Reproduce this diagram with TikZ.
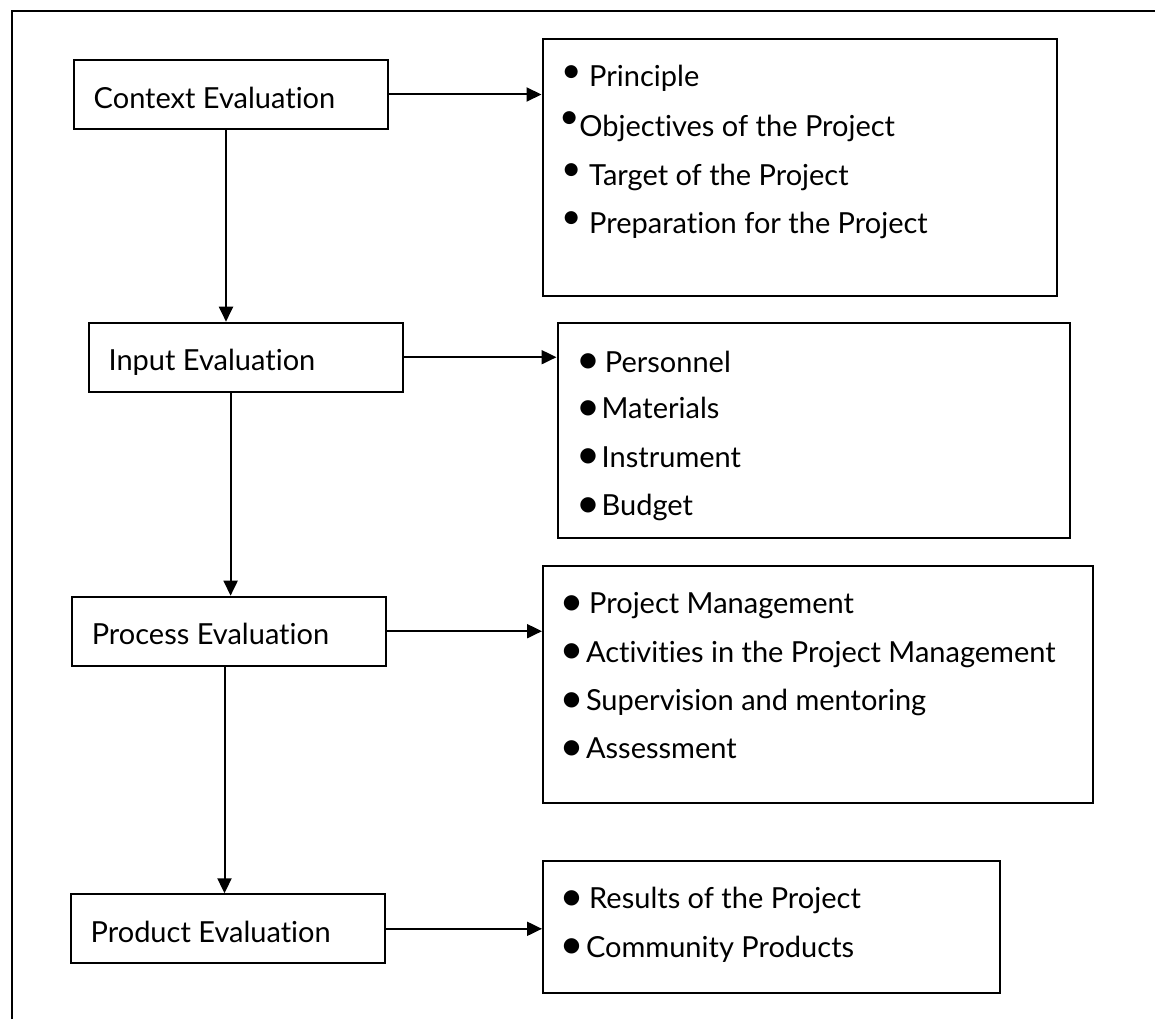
\documentclass[tikz,border=0pt]{standalone}
\usepackage{fontspec}
\setmainfont{Lato}[Ligatures=NoCommon]
\newfontfamily\dotfont{DejaVu Sans}
\usetikzlibrary{arrows.meta}

\newcommand{\bigdot}{{\fontsize{20}{20}\dotfont ●}}
\newcommand{\smalldot}{{\fontsize{17}{17}\dotfont ●}}
\newcommand{\stagetext}[1]{\makebox[274.6pt][l]{#1}}

\tikzset{
    stage/.style={draw, line width=2pt, anchor=north west, minimum height=69pt,
        inner xsep=20pt, text height=27.5pt, text depth=0pt},
    listbox/.style={draw, line width=2pt, anchor=north west, inner sep=0pt},
    item/.style={anchor=base west, inner sep=0pt},
    arr/.style={line width=2pt, -{Triangle[length=15pt,width=14pt]}},
}

\begin{document}
\begin{tikzpicture}[x=1pt, y=-1pt, font=\fontsize{29}{35}\selectfont]
    \useasboundingbox (0, 0) rectangle (1155, 1019);
    \draw[line width=2.6pt] (11.9, 1019) |- (1155, 11);

    % evaluation stages
    \node[stage] (ctx) at (72.7, 59) {\stagetext{Context Evaluation}};
    \node[stage] (inp) at (87.6, 321.7) {\stagetext{Input Evaluation}};
    \node[stage] (prc) at (70.8, 595.7) {\stagetext{Process Evaluation}};
    \node[stage] (prd) at (69.7, 893.3) {\stagetext{Product Evaluation}};

    % lists
    \node[listbox, minimum width=514.2pt, minimum height=257.3pt] (ctxl) at (541.5, 37.7) {};
    \node[listbox, minimum width=512.1pt, minimum height=214.4pt] (inpl) at (556.5, 322.3) {};
    \node[listbox, minimum width=550pt, minimum height=236.7pt] (prcl) at (542, 565) {};
    \node[listbox, minimum width=456.8pt, minimum height=131.7pt] (prdl) at (542, 860) {};

    \foreach \bx/\by/\tx/\ty/\t in {571.4/71.7/589/87/Principle,
            569.4/118.3/579.2/137/Objectives of the Project,
            571.4/170/589/185.3/Target of the Project,
            571.4/218.3/589/233.6/Preparation for the Project}{
        \node[inner sep=0pt] at (\bx, \by) {\smalldot};
        \node[item] at (\tx, \ty) {\t};
    }
    \foreach \by/\tx/\t in {361.7/604.7/Personnel, 408.3/601.5/Materials,
            456.7/601.5/Instrument, 505/601.5/Budget}{
        \node[inner sep=0pt] at (588, \by) {\bigdot};
        \node[item] at (\tx, \by+10.3) {\t};
    }
    \foreach \by/\tx/\t in {603.3/589/Project Management,
            651.7/585.8/Activities in the Project Management,
            700/585.8/Supervision and mentoring, 748.3/585.8/Assessment,
            898.3/589/Results of the Project, 946.7/585.8/Community Products}{
        \node[inner sep=0pt] at (571.6, \by) {\bigdot};
        \node[item] at (\tx, \by+10.3) {\t};
    }

    % connectors
    \draw[arr] (ctx.east) -- (ctx.east -| ctxl.west);
    \draw[arr] (inp.east) -- (inp.east -| inpl.west);
    \draw[arr] (prc.east) -- (prc.east -| prcl.west);
    \draw[arr] (prd.east) -- (prd.east -| prdl.west);

    \draw[arr] ([xshift=-5pt]ctx.south) -- ([xshift=-5pt]ctx.south |- inp.north);
    \draw[arr] ([xshift=-15.3pt]inp.south) -- ([xshift=-15.3pt]inp.south |- prc.north);
    \draw[arr] ([xshift=-4.6pt]prc.south) -- ([xshift=-4.6pt]prc.south |- prd.north);
\end{tikzpicture}
\end{document}
